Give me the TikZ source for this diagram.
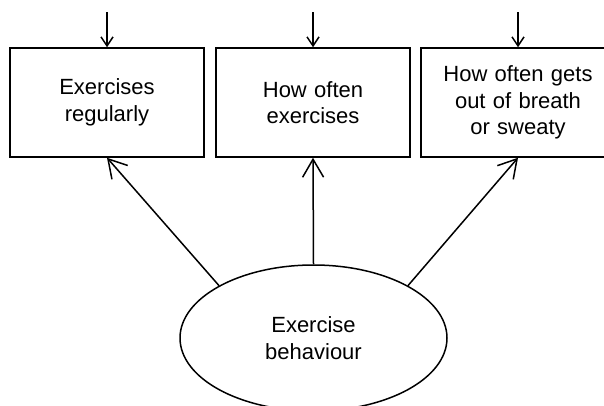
\documentclass[tikz,border=0pt]{standalone}
\usepackage{fontspec}
\setmainfont{Liberation Sans}
\usetikzlibrary{arrows.meta}
\usetikzlibrary{shapes.geometric}

\begin{document}
\begin{tikzpicture}[
        x=1pt,
        y=-1pt,
        item/.style={
            rectangle,
            draw,
            line width=1.5pt,
            text centered,
            text width=180pt,
            minimum width=194pt,
            minimum height=109pt,
            font=\fontsize{22}{26.5}\selectfont
        },
        factor/.style={
            ellipse,
            draw,
            line width=1.5pt,
            align=center,
            inner sep=0pt,
            minimum width=267pt,
            minimum height=146pt,
            font=\fontsize{22}{26.5}\selectfont
        },
        load/.style={
            draw,
            line width=1.5pt,
            -{Straight Barb[length=18pt,width=21pt]}
        },
        error/.style={
            draw,
            line width=1.5pt,
            -{Straight Barb[length=9pt,width=12pt]}
        },
        ]

        \clip (0,0) rectangle (604,406);

        \node [item] (regularly) at (107,102.5) {Exercises \\ regularly};
        \node [item] (often) at (313,102.5) {How often \\ exercises};
        \node [item] (sweaty) at (518,102.5) {How often gets \\ out of breath \\ or sweaty};
        \node [factor] (behaviour) at (313.5,338) {Exercise \\ behaviour};

        \coordinate (err-regularly) at ([yshift=35pt]regularly.north);
        \coordinate (err-often) at ([yshift=35pt]often.north);
        \coordinate (err-sweaty) at ([yshift=35pt]sweaty.north);

        \path [error] (err-regularly) -- (regularly);
        \path [error] (err-often) -- (often);
        \path [error] (err-sweaty) -- (sweaty);

        \path [load] (behaviour.151) -- (regularly.south);
        \path [load] (behaviour.north) -- (often.south);
        \path [load] (behaviour.29) -- (sweaty.south);
    \end{tikzpicture}
\end{document}
